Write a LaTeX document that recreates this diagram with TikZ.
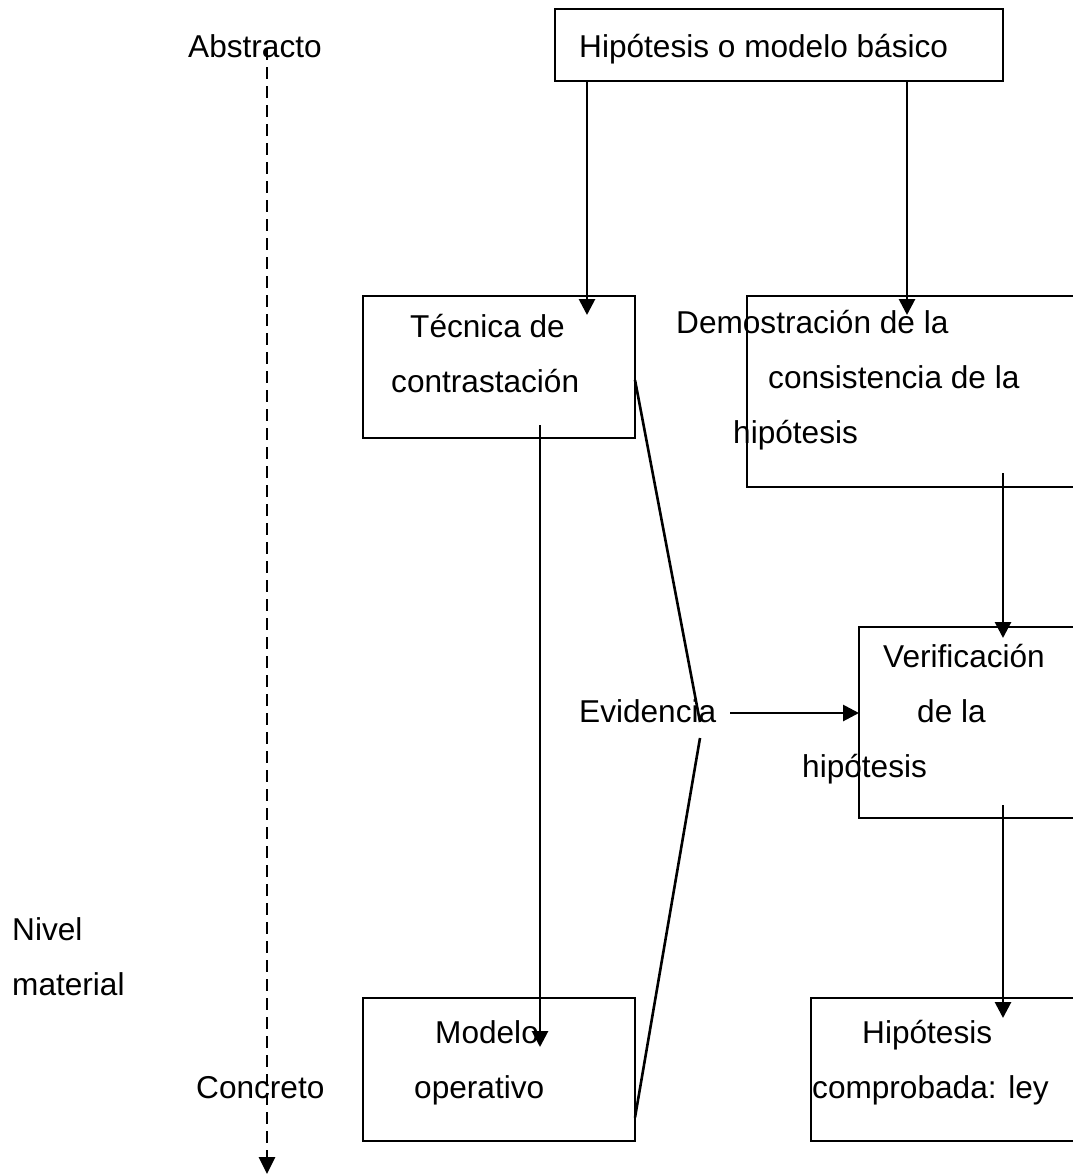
\documentclass[tikz,border=0pt]{standalone}
\usepackage{fontspec}
\setmainfont{Liberation Sans}
\usetikzlibrary{arrows.meta}
\begin{document}
\begin{tikzpicture}[x=1pt,y=-1pt,
  lbl/.style={anchor=base west, inner sep=0pt, font=\fontsize{31.6}{38}\selectfont},
  box/.style={draw, line width=2.8pt, rectangle, anchor=north west, inner sep=0pt, outer sep=0pt},
  link/.style={line width=2.6pt},
  arr/.style={line width=2.8pt, -{Triangle[length=16pt,width=16pt]}},
  axis/.style={line width=2.8pt, dash pattern=on 12pt off 7pt, -{Triangle[length=17pt,width=16pt]}}]
\clip (0,0) rectangle (1073,1175);
\fill[white] (0,0) rectangle (1073,1175);

% boxes
\node[box, minimum width=448pt, minimum height=72pt] (hip) at (555,9) {};
\node[box, minimum width=272pt, minimum height=142pt] (tec) at (363,296) {};
\node[box, minimum width=360pt, minimum height=191pt] (dem) at (747,296) {};
\node[box, minimum width=240pt, minimum height=191pt] (ver) at (859,627) {};
\node[box, minimum width=272pt, minimum height=143pt] (mod) at (363,998) {};
\node[box, minimum width=280pt, minimum height=143pt] (hco) at (811,998) {};

% texts
\node[lbl] (tabs) at (188,57) {Abstracto};
\node[lbl] (thip) at (579,57) {Hipótesis o modelo básico};
\node[lbl] (ttec1) at (410,337) {Técnica de};
\node[lbl] (ttec2) at (391,392) {contrastación};
\node[lbl] (tdem1) at (676,333) {Demostración de la};
\node[lbl] (tdem2) at (768,388) {consistencia de la};
\node[lbl] (tdem3) at (733,443) {hipótesis};
\node[lbl] (tver1) at (883,667) {Verificación};
\node[lbl] (tver2) at (917,722) {de la};
\node[lbl] (tver3) at (802,777) {hipótesis};
\node[lbl] (tevi) at (579,722) {Evidencia};
\node[lbl] (tniv1) at (12,940) {Nivel};
\node[lbl] (tniv2) at (12,995) {material};
\node[lbl] (tmod1) at (435,1043) {Modelo};
\node[lbl] (tmod2) at (414,1098) {operativo};
\node[lbl] (thc1) at (862,1043) {Hipótesis};
\node[lbl] (thc2) at (812,1098) {comprobada: ley};
\node[lbl] (tcon) at (196,1098) {Concreto};

% connector end points
\coordinate (a1) at (587,315);
\coordinate (a2) at (907,315);
\coordinate (a3s) at (540,425);
\coordinate (a3) at (540,1047);
\coordinate (a4s) at (1003,473);
\coordinate (a4) at (1003,638);
\coordinate (a5s) at (1003,805);
\coordinate (a5) at (1003,1018);
\coordinate (evs) at (730,713);
\coordinate (ev1) at (700,722);
\coordinate (ev2) at (700,738);
\coordinate (dtop) at (267,48);
\coordinate (dbot) at (267,1174);

% level axis
\draw[axis] (dtop) -- (dbot);

% arrows
\draw[arr] (hip.south -| a1) -- (a1);
\draw[arr] (hip.south -| a2) -- (a2);
\draw[arr] (a3s) -- (a3);
\draw[arr] (a4s) -- (a4);
\draw[arr] (a5s) -- (a5);
\draw[arr] (evs) -- (ver.west |- evs);

% evidence bracket
\draw[link] ([yshift=-13pt]tec.east) -- (ev1);
\draw[link] (ev2) -- ([yshift=-48pt]mod.east);
\end{tikzpicture}
\end{document}
